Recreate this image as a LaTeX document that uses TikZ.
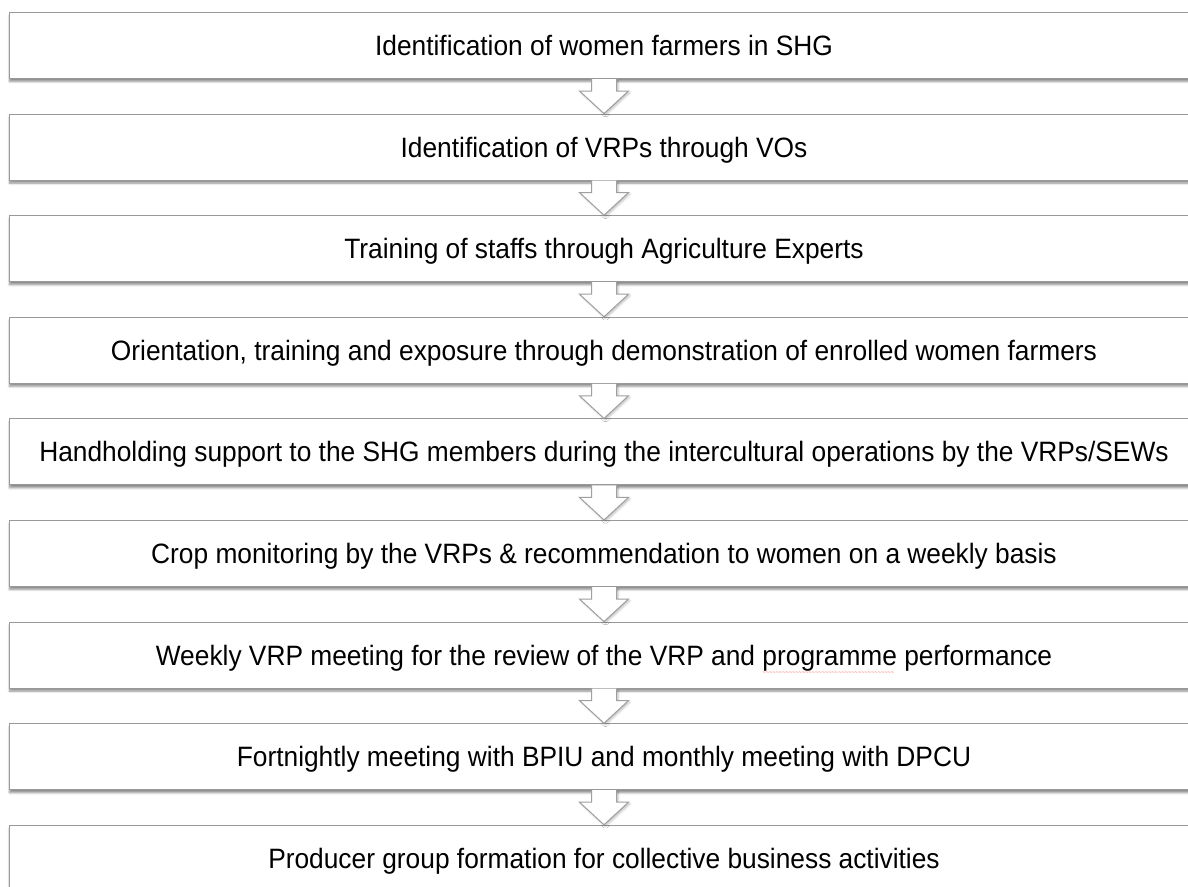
\documentclass[tikz,border=0pt]{standalone}
\usepackage{fontspec}
\setmainfont[FakeStretch=0.94]{Liberation Sans}
\usetikzlibrary{positioning,shadows.blur}

\tikzstyle{stage} = [draw=gray!80, line width=1pt, fill=white, minimum width=1190pt, minimum height=66pt, inner sep=0pt, text height=20pt, text depth=0pt, font=\fontsize{28}{32}\selectfont, blur shadow={shadow xshift=0.5pt, shadow yshift=-3pt, shadow blur steps=6, shadow opacity=45}]
\tikzstyle{down} = [draw=gray!75, line width=1pt, fill=white, line join=miter, blur shadow={shadow xshift=1.5pt, shadow yshift=-1.5pt, shadow blur steps=4, shadow opacity=25}]

% red spell-check wave under a word
\newcommand{\spellmark}[1]{\setbox0\hbox{#1}\rlap{\raisebox{-9pt}{\textcolor{red!70}{\fontsize{6}{6}\selectfont\leaders\hbox{\textasciitilde}\hskip\wd0}}}#1}

\begin{document}
\begin{tikzpicture}[node distance=34.6pt]
  \useasboundingbox (0,0) rectangle (1188pt,-886pt);
  \node[stage] (s1) at (604pt,-45.5pt) {Identification of women farmers in SHG};
  \node[stage, below=of s1] (s2) {Identification of VRPs through VOs};
  \node[stage, below=of s2] (s3) {Training of staffs through Agriculture Experts};
  \node[stage, below=of s3] (s4) {Orientation, training and exposure through demonstration of enrolled women farmers};
  \node[stage, below=of s4] (s5) {Handholding support to the SHG members during the intercultural operations by the VRPs/SEWs};
  \node[stage, below=of s5] (s6) {Crop monitoring by the VRPs \& recommendation to women on a weekly basis};
  \node[stage, below=of s6] (s7) {Weekly VRP meeting for the review of the VRP and \spellmark{programme} performance};
  \node[stage, below=of s7] (s8) {Fortnightly meeting with BPIU and monthly meeting with DPCU};
  \node[stage, below=of s8] (s9) {Producer group formation for collective business activities};

  % block arrows between the stages
  \foreach \i [evaluate=\i as \j using int(\i+1)] in {1,...,8}
    \path[down] ([xshift=-12.5pt]s\i.south) -- ([xshift=-12.5pt,yshift=-12pt]s\i.south)
      -- ([xshift=-24.5pt,yshift=-12pt]s\i.south) -- (s\j.north)
      -- ([xshift=24.5pt,yshift=-12pt]s\i.south) -- ([xshift=12.5pt,yshift=-12pt]s\i.south)
      -- ([xshift=12.5pt]s\i.south);
\end{tikzpicture}
\end{document}
